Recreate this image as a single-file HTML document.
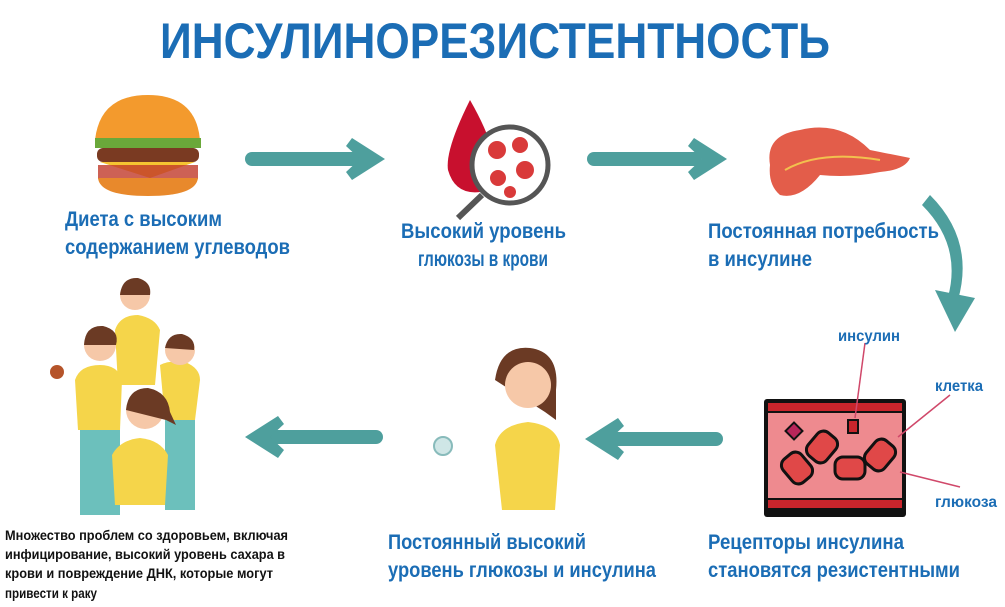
<!DOCTYPE html>
<html><head><meta charset="utf-8"><style>
html,body{margin:0;padding:0;background:#fff;}
svg{display:block}
text{font-family:"Liberation Sans",sans-serif;font-weight:bold;fill:#1b6db5}
</style></head><body>
<svg width="1005" height="607" viewBox="0 0 1005 607" xmlns="http://www.w3.org/2000/svg">
<text x="160" y="58" font-size="50" textLength="670" lengthAdjust="spacingAndGlyphs">ИНСУЛИНОРЕЗИСТЕНТНОСТЬ</text>

<!-- arrows -->
<g fill="#4e9f9d">
<rect x="245" y="152" width="115" height="14" rx="7"/><polygon points="352,138 385,159 352,180 346,172 360,159 346,146"/>
<rect x="587" y="152" width="115" height="14" rx="7"/><polygon points="694,138 727,159 694,180 688,172 702,159 688,146"/>
<rect x="608" y="432" width="115" height="14" rx="7"/><polygon points="618,418 585,439 618,460 624,452 610,439 624,426"/>
<rect x="268" y="430" width="115" height="14" rx="7"/><polygon points="278,416 245,437 278,458 284,450 270,437 284,424"/>
<path d="M930 195 Q975 240 958 300 L948 297 Q962 245 922 205 Z"/>
<polygon points="935,290 975,298 955,332"/>
</g>

<!-- burger -->
<g>
<path d="M95 140 Q100 95 148 95 Q196 95 200 140 Z" fill="#f39a2d"/>
<rect x="95" y="138" width="106" height="10" fill="#6aa83a"/>
<rect x="97" y="148" width="102" height="14" rx="6" fill="#7a3a22"/>
<polygon points="100,162 195,162 150,178" fill="#f5c431"/>
<rect x="98" y="165" width="100" height="14" fill="#c0392b" opacity=".8"/>
<path d="M98 178 L198 178 Q196 196 148 196 Q100 196 98 178Z" fill="#e8892c"/>
</g>
<text x="65" y="226" font-size="21" textLength="157" lengthAdjust="spacingAndGlyphs">Диета с высоким</text>
<text x="65" y="254" font-size="21" textLength="225" lengthAdjust="spacingAndGlyphs">содержанием углеводов</text>

<!-- blood drop -->
<path d="M470 100 Q445 150 448 170 Q455 195 480 192 Q500 185 495 160 Q490 135 470 100Z" fill="#c8102e"/>
<circle cx="510" cy="165" r="38" fill="#fff" stroke="#555" stroke-width="5"/>
<g fill="#d93a3a"><circle cx="497" cy="150" r="9"/><circle cx="520" cy="145" r="8"/><circle cx="525" cy="170" r="9"/><circle cx="498" cy="178" r="8"/><circle cx="510" cy="192" r="6"/></g>
<line x1="482" y1="195" x2="458" y2="218" stroke="#555" stroke-width="6"/>
<text x="401" y="238" font-size="21" textLength="165" lengthAdjust="spacingAndGlyphs">Высокий уровень</text>
<text x="418" y="266" font-size="21" textLength="130" lengthAdjust="spacingAndGlyphs">глюкозы в крови</text>

<!-- pancreas -->
<path d="M770 165 Q765 135 800 130 Q840 120 870 150 Q895 155 910 158 Q905 170 880 172 Q850 178 820 175 Q800 200 780 195 Q768 185 770 165Z" fill="#e35d4a"/>
<path d="M785 170 Q820 150 880 160" stroke="#f2c14e" stroke-width="2" fill="none"/>
<text x="708" y="238" font-size="21" textLength="231" lengthAdjust="spacingAndGlyphs">Постоянная потребность</text>
<text x="708" y="266" font-size="21" textLength="104" lengthAdjust="spacingAndGlyphs">в инсулине</text>

<!-- vessel -->
<rect x="764" y="399" width="142" height="118" rx="3" fill="#111"/>
<rect x="768" y="403" width="134" height="8" fill="#c9252c"/>
<rect x="768" y="500" width="134" height="8" fill="#c9252c"/>
<rect x="768" y="413" width="134" height="85" fill="#ee8a8f"/>
<g fill="#e04848" stroke="#111" stroke-width="3">
<rect x="810" y="432" width="24" height="30" rx="8" transform="rotate(40 822 447)"/>
<rect x="785" y="453" width="24" height="30" rx="8" transform="rotate(-40 797 468)"/>
<rect x="835" y="457" width="30" height="22" rx="8"/>
<rect x="868" y="440" width="24" height="30" rx="8" transform="rotate(40 880 455)"/>
</g>
<rect x="848" y="420" width="10" height="13" fill="#c9252c" stroke="#111" stroke-width="2"/>
<rect x="788" y="425" width="12" height="12" fill="#b8265a" stroke="#111" stroke-width="2" transform="rotate(45 794 431)"/>
<g stroke="#d0486a" stroke-width="1.5"><line x1="865" y1="343" x2="855" y2="418"/><line x1="950" y1="395" x2="898" y2="437"/><line x1="960" y1="487" x2="900" y2="472"/></g>
<text x="838" y="341" font-size="16" textLength="62" lengthAdjust="spacingAndGlyphs">инсулин</text>
<text x="935" y="391" font-size="16" textLength="48" lengthAdjust="spacingAndGlyphs">клетка</text>
<text x="935" y="507" font-size="16" textLength="62" lengthAdjust="spacingAndGlyphs">глюкоза</text>
<text x="708" y="549" font-size="21" textLength="196" lengthAdjust="spacingAndGlyphs">Рецепторы инсулина</text>
<text x="708" y="577" font-size="21" textLength="252" lengthAdjust="spacingAndGlyphs">становятся резистентными</text>

<!-- woman middle -->
<path d="M495 380 Q500 345 530 348 Q560 352 556 390 L556 420 L545 412 Z" fill="#6b3a24"/>
<circle cx="528" cy="385" r="23" fill="#f6c8a8"/>
<path d="M495 445 Q500 425 528 422 Q556 425 560 445 L555 510 L502 510 Z" fill="#f5d54a"/>
<circle cx="443" cy="446" r="9" fill="#cfe6e6" stroke="#8bb" stroke-width="2"/>
<text x="388" y="549" font-size="21" textLength="198" lengthAdjust="spacingAndGlyphs">Постоянный высокий</text>
<text x="388" y="577" font-size="21" textLength="268" lengthAdjust="spacingAndGlyphs">уровень глюкозы и инсулина</text>

<!-- women group -->
<g>
<rect x="80" y="390" width="40" height="125" fill="#6cc0bc"/>
<rect x="165" y="395" width="30" height="115" fill="#6cc0bc"/>
<path d="M75 380 Q80 365 100 365 Q118 365 122 380 L120 430 L78 430Z" fill="#f5d54a"/>
<path d="M115 330 Q120 315 138 315 Q155 318 160 330 L155 385 L118 385Z" fill="#f5d54a"/>
<path d="M160 365 Q170 360 185 362 Q200 368 200 380 L195 420 L165 420Z" fill="#f5d54a"/>
<path d="M112 455 Q120 440 140 438 Q160 440 168 455 L165 505 L115 505Z" fill="#f5d54a"/>
<circle cx="100" cy="345" r="16" fill="#f6c8a8"/><path d="M84 345 Q85 325 103 326 Q120 330 116 345 Z" fill="#6b3a24"/>
<circle cx="135" cy="295" r="15" fill="#f6c8a8"/><path d="M120 295 Q122 277 138 278 Q152 282 150 295 Z" fill="#6b3a24"/>
<circle cx="180" cy="350" r="15" fill="#f6c8a8"/><path d="M165 348 Q168 333 182 334 Q196 338 194 350 Z" fill="#6b3a24"/>
<circle cx="145" cy="410" r="19" fill="#f6c8a8"/><path d="M126 410 Q128 388 148 388 Q168 392 170 412 L176 425 L166 420 Z" fill="#6b3a24"/>
<circle cx="57" cy="372" r="7" fill="#b5542a"/>
</g>
<text x="5" y="540" font-size="13.5" textLength="283" lengthAdjust="spacingAndGlyphs" style="fill:#111">Множество проблем со здоровьем, включая</text>
<text x="5" y="559" font-size="13.5" textLength="280" lengthAdjust="spacingAndGlyphs" style="fill:#111">инфицирование, высокий уровень сахара в</text>
<text x="5" y="578" font-size="13.5" textLength="268" lengthAdjust="spacingAndGlyphs" style="fill:#111">крови и повреждение ДНК, которые могут</text>
<text x="5" y="598" font-size="13.5" textLength="92" lengthAdjust="spacingAndGlyphs" style="fill:#111">привести к раку</text>
</svg>
</body></html>
